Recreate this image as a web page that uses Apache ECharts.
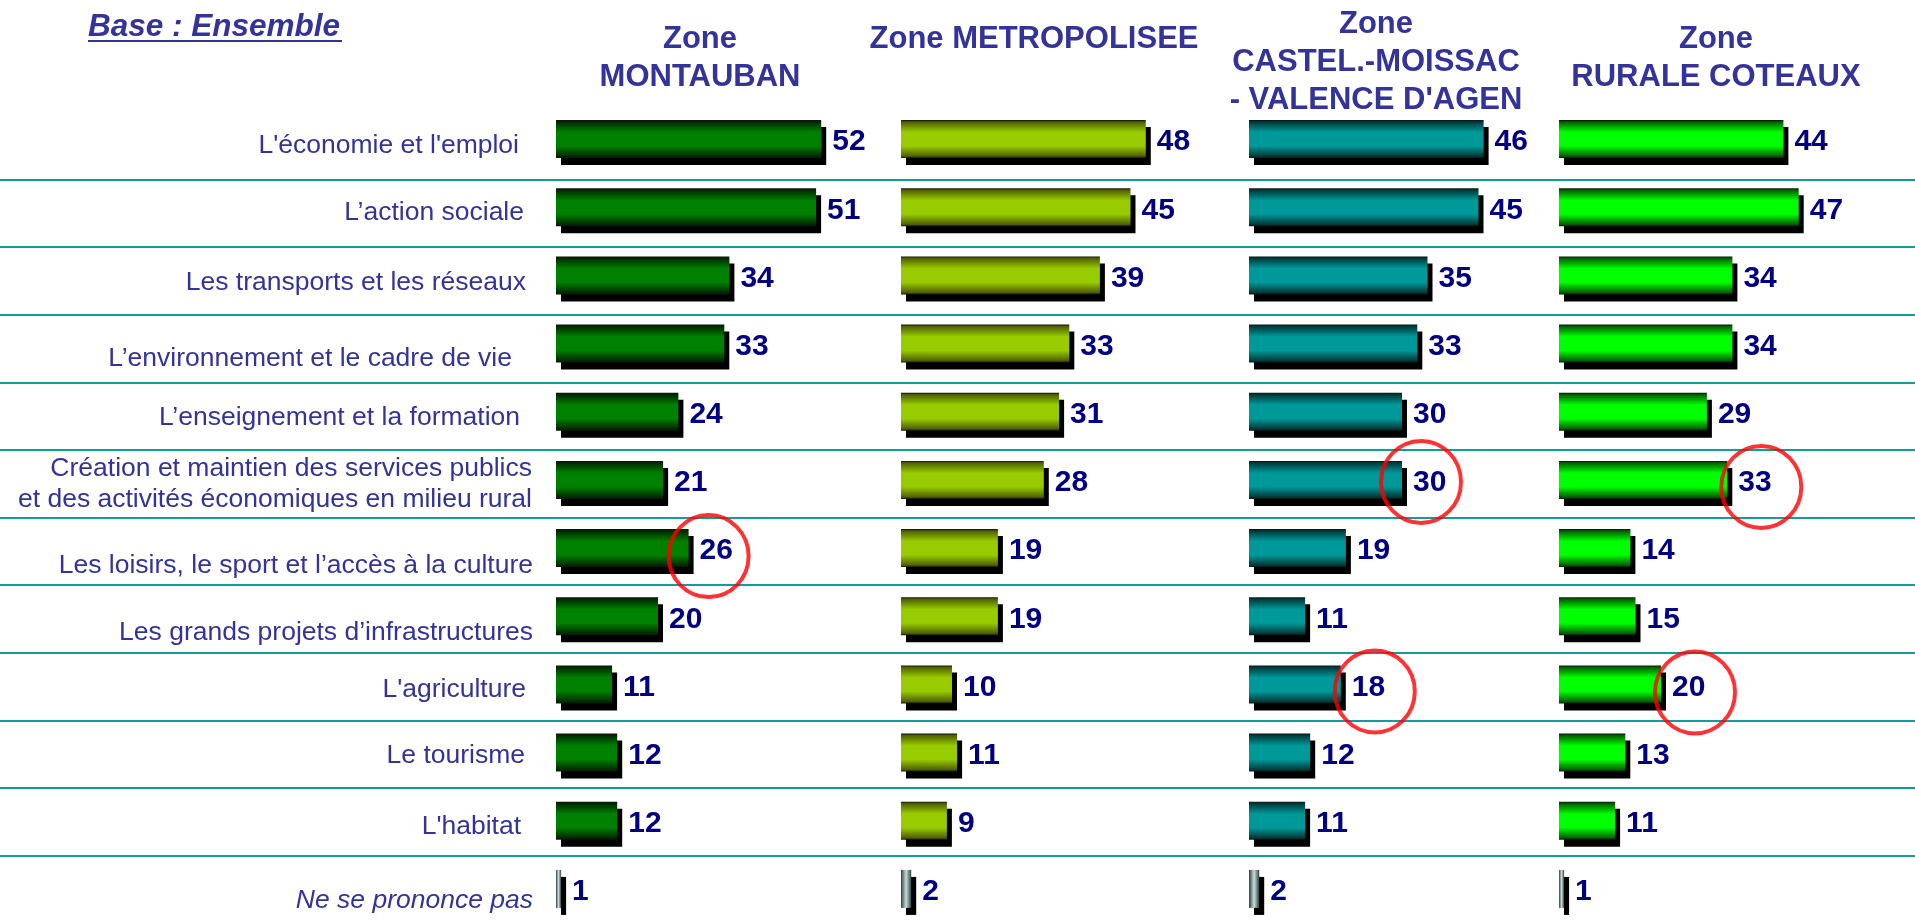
<!DOCTYPE html>
<html><head><meta charset="utf-8">
<script src="https://cdn.jsdelivr.net/npm/echarts@6/dist/echarts.min.js"></script>
<style>html,body{margin:0;padding:0;background:#fff}#c{width:1915px;height:923px}</style>
</head><body><div id="c"></div>
<script>
// ---------- DATA ----------
const categories = [
  "L'économie et l'emploi",
  "L\u2019action sociale",
  "Les transports et les réseaux",
  "L\u2019environnement et le cadre de vie",
  "L\u2019enseignement et la formation",
  "Création et maintien des services publics\net des activités économiques en milieu rural",
  "Les loisirs, le sport et l\u2019accès à la culture",
  "Les grands projets d\u2019infrastructures",
  "L'agriculture",
  "Le tourisme",
  "L'habitat",
  "Ne se prononce pas"
];
const zoneTitles = [
  "Zone\nMONTAUBAN",
  "Zone METROPOLISEE",
  "Zone\nCASTEL.-MOISSAC\n- VALENCE D'AGEN",
  "Zone\nRURALE COTEAUX"
];
const montauban     = [52, 51, 34, 33, 24, 21, 26, 20, 11, 12, 12, 1];
const metropolisee  = [48, 45, 39, 33, 31, 28, 19, 19, 10, 11,  9, 2];
const castelMoissac = [46, 45, 35, 33, 30, 30, 19, 11, 18, 12, 11, 2];
const ruraleCoteaux = [44, 47, 34, 34, 29, 33, 14, 15, 20, 13, 11, 1];
// highlighted (circled) values: [zone index, category index]
const circled = [[0, 6], [2, 5], [3, 5], [2, 8], [3, 8]];
const baseLabel = "Base : Ensemble";
const noAnswer = "Ne se prononce pas";

// ---------- STYLE / LAYOUT ----------
const zoneValues = [montauban, metropolisee, castelMoissac, ruraleCoteaux];
const gridLefts = [556, 901, 1249, 1559];
const headerX = [700, 1034, 1376, 1716];
const headerY = [58, 39, 62, 58];
const circleShift = [[20, 8], [19, 2], [34, 7], [34, 7], [34, 8]];
// per-label fine placement (vertical shift down, extra right gap) in px
const labelShiftY = [7, 5, 7, 15, 6, 4, 18, 16, 5, 3, 6, 12];
const labelGapR   = [14, 9, 7, 21, 13, 1, 0, 0, 7, 8, 12, 0];
const zoneColors = [
  ['#002a00', '#008000'],
  ['#4f6000', '#99cc00'],
  ['#003a3a', '#009999'],
  ['#006000', '#00ff00']
];
const FONT = "'Liberation Sans', Arial, sans-serif";
const TOP = 105, HEIGHT = 823;

function vgrad(edge, mid) {
  return new echarts.graphic.LinearGradient(0, 0, 0, 1, [
    {offset: 0, color: '#111'}, {offset: 0.05, color: edge}, {offset: 0.32, color: mid},
    {offset: 0.68, color: mid}, {offset: 0.95, color: edge}, {offset: 1, color: '#111'}
  ]);
}
const nspGrad = new echarts.graphic.LinearGradient(0, 0, 1, 0, [
  {offset: 0, color: '#2f4040'}, {offset: 0.5, color: '#c8dede'}, {offset: 1, color: '#2f4040'}
]);

const rich = {};
categories.forEach((c, i) => {
  rich['r' + i] = {
    color: '#333399', fontSize: 26.5, fontFamily: FONT, lineHeight: 31, align: 'right',
    fontStyle: c === noAnswer ? 'italic' : 'normal',
    padding: [labelShiftY[i] * 2, labelGapR[i], 0, 0]
  };
});

const grids = [], xAxes = [], yAxes = [], series = [];
zoneValues.forEach((vals, z) => {
  grids.push({left: gridLefts[z], top: TOP, width: 306, height: HEIGHT, containLabel: false});
  xAxes.push({gridIndex: z, type: 'value', min: 0, max: 60, show: false});
  yAxes.push({
    gridIndex: z, type: 'category', data: categories, inverse: true,
    axisLine: {show: false}, axisTick: {show: false}, splitLine: {show: false},
    axisLabel: z === 0 ? {
      show: true, interval: 0, margin: 23, color: '#333399', fontSize: 26.5, fontFamily: FONT,
      formatter: v => '{r' + categories.indexOf(v) + '|' + v + '}',
      rich: rich
    } : {show: false}
  });
  const [edge, mid] = zoneColors[z];
  series.push({
    type: 'bar', xAxisIndex: z, yAxisIndex: z, barWidth: 38,
    data: vals.map((v, i) => categories[i] === noAnswer
      ? {value: v, itemStyle: {color: nspGrad}}
      : v),
    itemStyle: {
      color: vgrad(edge, mid), borderWidth: 0,
      shadowColor: '#000', shadowOffsetX: 5, shadowOffsetY: 7, shadowBlur: 0
    },
    label: {
      show: true, position: 'right', distance: 11, offset: [0, 3], color: '#000080',
      fontSize: 30, fontWeight: 'bold', fontFamily: FONT
    },
    silent: true, animation: false
  });
  const pts = [];
  circled.forEach((c, k) => {
    if (c[0] === z) pts.push({value: [vals[c[1]], c[1]], symbolOffset: circleShift[k]});
  });
  if (pts.length) series.push({
    type: 'scatter', xAxisIndex: z, yAxisIndex: z, data: pts, z: 10,
    symbol: 'circle', symbolSize: [80, 82], silent: true, animation: false,
    itemStyle: {color: 'rgba(0,0,0,0)', borderColor: '#ff0000', borderWidth: 4},
    label: {show: false}
  });
});
// full-width separator grid
grids.push({left: 0, right: 0, top: TOP + 7, height: HEIGHT});
xAxes.push({gridIndex: 4, type: 'value', show: false, min: 0, max: 1});
yAxes.push({
  gridIndex: 4, type: 'category', data: categories, inverse: true,
  axisLine: {show: false}, axisTick: {show: false, interval: 0}, axisLabel: {show: false},
  splitLine: {show: true, interval: 0, showMinLine: false, showMaxLine: false,
    lineStyle: {color: '#139c9c', width: 2}}
});

const graphics = [
  {type: 'text', x: 88, y: 27, style: {text: baseLabel, fill: '#333399',
    font: "italic bold 31.5px " + FONT, textAlign: 'left', textVerticalAlign: 'middle'}},
  {type: 'line', shape: {x1: 88, y1: 41, x2: 342, y2: 41}, style: {stroke: '#333399', lineWidth: 2}}
];
zoneTitles.forEach((t, z) => {
  graphics.push({type: 'text', x: headerX[z], y: headerY[z], style: {
    text: t, fill: '#333399', font: "bold 31px " + FONT, lineHeight: 38,
    textAlign: 'center', textVerticalAlign: 'middle'}});
});

const chart = echarts.init(document.getElementById('c'), null, {renderer: 'canvas'});
chart.setOption({
  backgroundColor: '#ffffff',
  animation: false,
  grid: grids, xAxis: xAxes, yAxis: yAxes, series: series,
  graphic: graphics
});
</script>
</body></html>
